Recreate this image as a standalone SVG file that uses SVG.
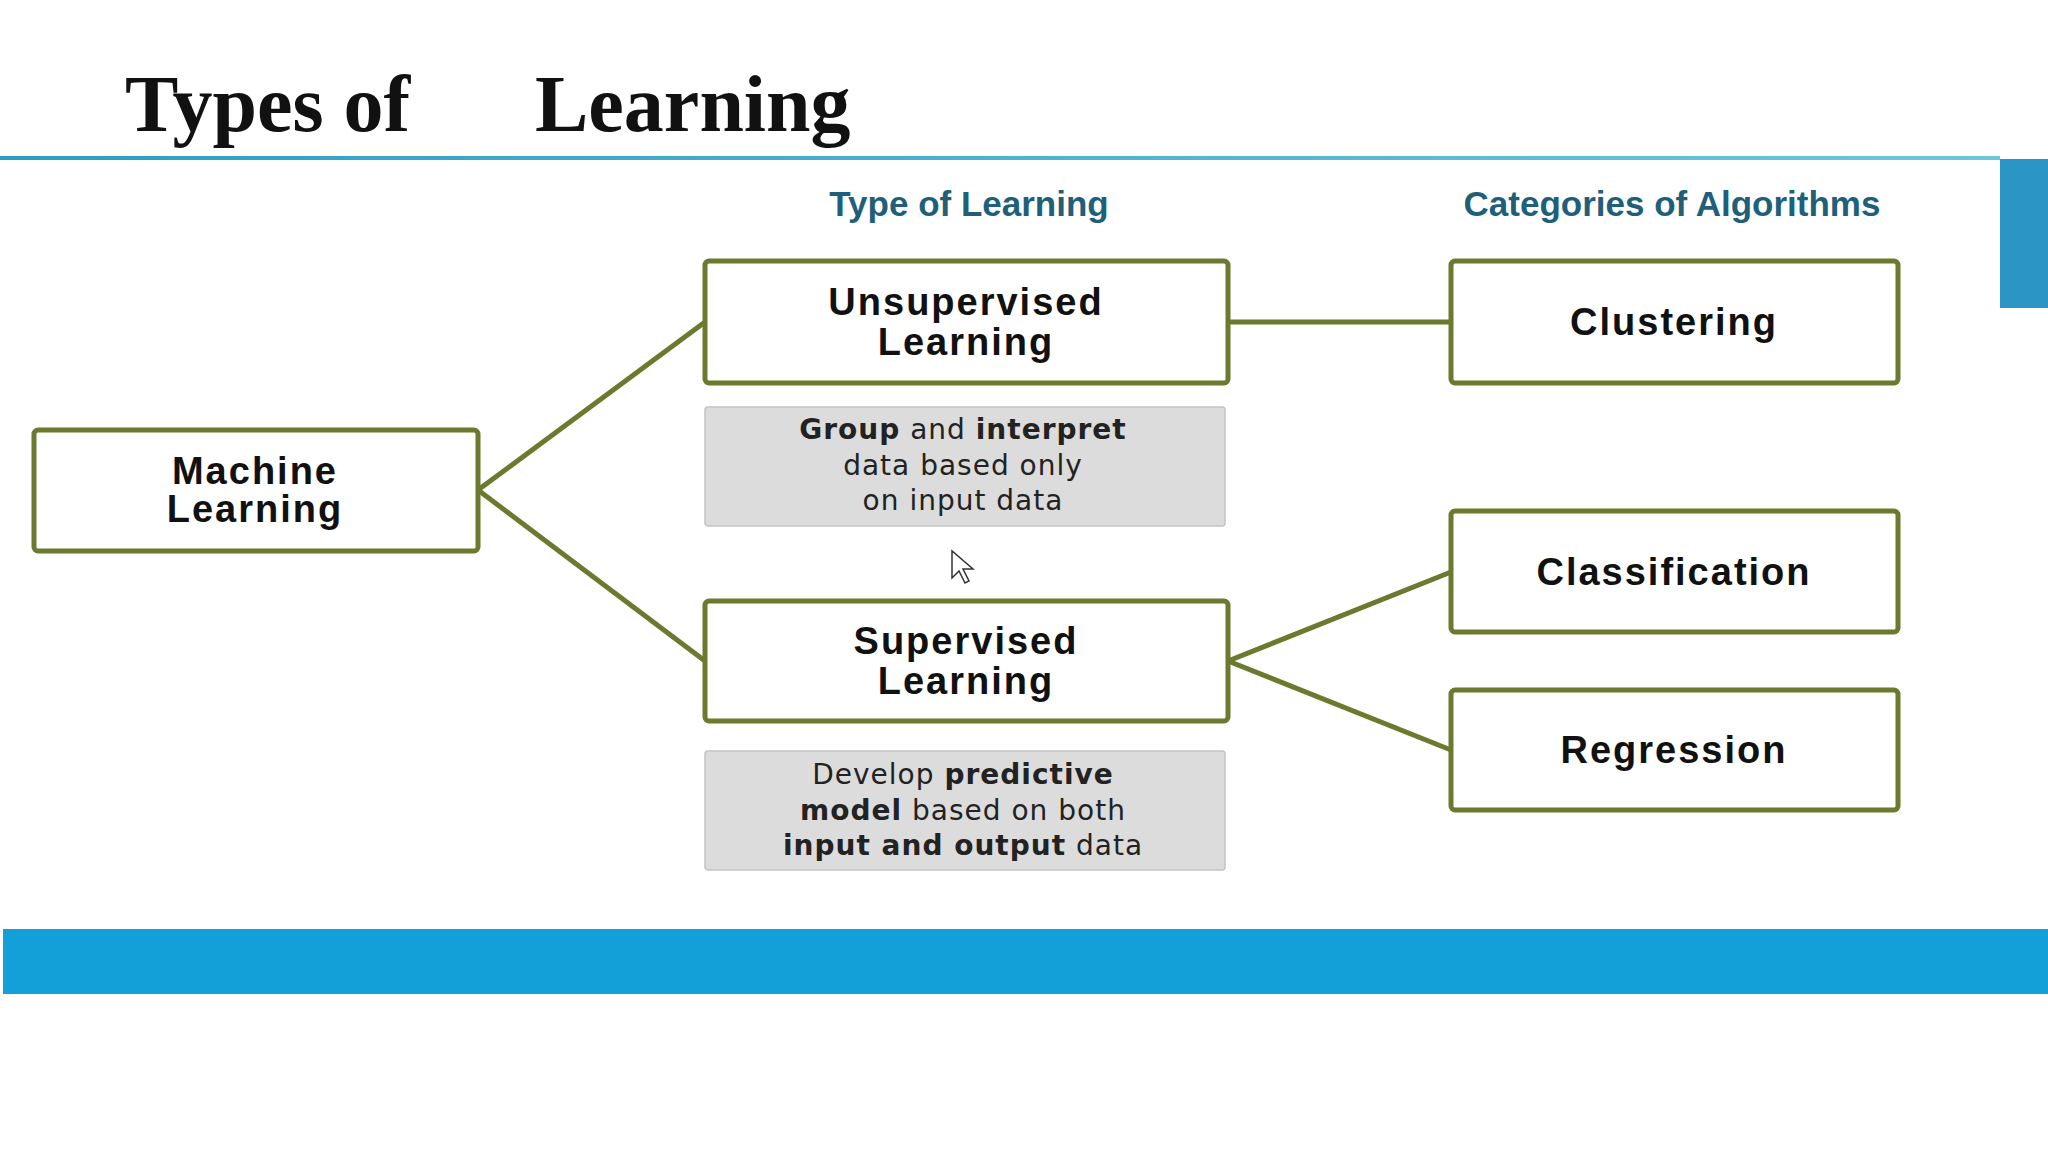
<svg xmlns="http://www.w3.org/2000/svg" width="2048" height="1153" viewBox="0 0 2048 1153">
<defs>
<linearGradient id="tl" x1="0" x2="1"><stop offset="0" stop-color="#2e9cc4"/><stop offset="1" stop-color="#6cc6dc"/></linearGradient>
<style>
.box{fill:#fff;stroke:#6b7a2e;stroke-width:5}
.gray{fill:#dcdcdc;stroke:#c4c4c4;stroke-width:1.5}
.bt{font-family:"Liberation Sans",Arial,sans-serif;font-weight:bold;font-size:38px;letter-spacing:2px;fill:#111;text-anchor:middle}
.gt{font-family:"DejaVu Sans",sans-serif;font-size:28px;letter-spacing:1px;fill:#222;text-anchor:middle}
.b{font-weight:bold}
.hd{font-family:"Liberation Sans",Arial,sans-serif;font-weight:bold;font-size:35px;fill:#1f5f7a;text-anchor:middle}
.ln{stroke:#6b7a2e;stroke-width:5;fill:none}
</style>
</defs>
<rect width="2048" height="1153" fill="#fff"/>
<text x="125" y="131" font-family="Liberation Serif,serif" font-weight="bold" font-size="80" fill="#111">Types of</text>
<text x="535" y="131" font-family="Liberation Serif,serif" font-weight="bold" font-size="80" fill="#111">Learning</text>
<rect x="0" y="156" width="2000" height="4" fill="url(#tl)"/>
<rect x="2000" y="159" width="48" height="149" fill="#2b96c6"/>
<rect x="3" y="929" width="2045" height="65" fill="#139fd8"/>
<text class="hd" x="969" y="216">Type of Learning</text>
<text class="hd" x="1672" y="216">Categories of Algorithms</text>
<g id="connectors">
<path class="ln" d="M478 490 L705 322"/>
<path class="ln" d="M478 490 L705 661"/>
<path class="ln" d="M1228 322 L1451 322"/>
<path class="ln" d="M1228 661 L1451 572"/>
<path class="ln" d="M1228 661 L1451 750"/>
</g>
<g id="ml"><rect class="box" x="34" y="430" width="444" height="121" rx="4"/><text class="bt" x="255" y="484">Machine</text><text class="bt" x="255" y="522">Learning</text></g>
<g id="unsup"><rect class="box" x="705" y="261" width="523" height="122" rx="4"/><text class="bt" x="966" y="315">Unsupervised</text><text class="bt" x="966" y="355">Learning</text></g>
<g id="unsupdesc"><rect class="gray" x="705" y="407" width="520" height="119" rx="3"/><text class="gt" x="963" y="439"><tspan class="b">Group</tspan> and <tspan class="b">interpret</tspan></text><text class="gt" x="963" y="475">data based only</text><text class="gt" x="963" y="510">on input data</text></g>
<g id="sup"><rect class="box" x="705" y="601" width="523" height="120" rx="4"/><text class="bt" x="966" y="654">Supervised</text><text class="bt" x="966" y="694">Learning</text></g>
<g id="supdesc"><rect class="gray" x="705" y="751" width="520" height="119" rx="3"/><text class="gt" x="963" y="784">Develop <tspan class="b">predictive</tspan></text><text class="gt" x="963" y="820"><tspan class="b">model</tspan> based on both</text><text class="gt" x="963" y="855"><tspan class="b">input and output</tspan> data</text></g>
<g id="clust"><rect class="box" x="1451" y="261" width="447" height="122" rx="4"/><text class="bt" x="1674" y="335">Clustering</text></g>
<g id="class"><rect class="box" x="1451" y="511" width="447" height="121" rx="4"/><text class="bt" x="1674" y="585">Classification</text></g>
<g id="reg"><rect class="box" x="1451" y="690" width="447" height="120" rx="4"/><text class="bt" x="1674" y="763">Regression</text></g>
<path d="M952 551 L952 578 L959 571 L965 583 L969 581 L963 569 L973 569 Z" fill="#fff" stroke="#333" stroke-width="1.5"/>
</svg>
